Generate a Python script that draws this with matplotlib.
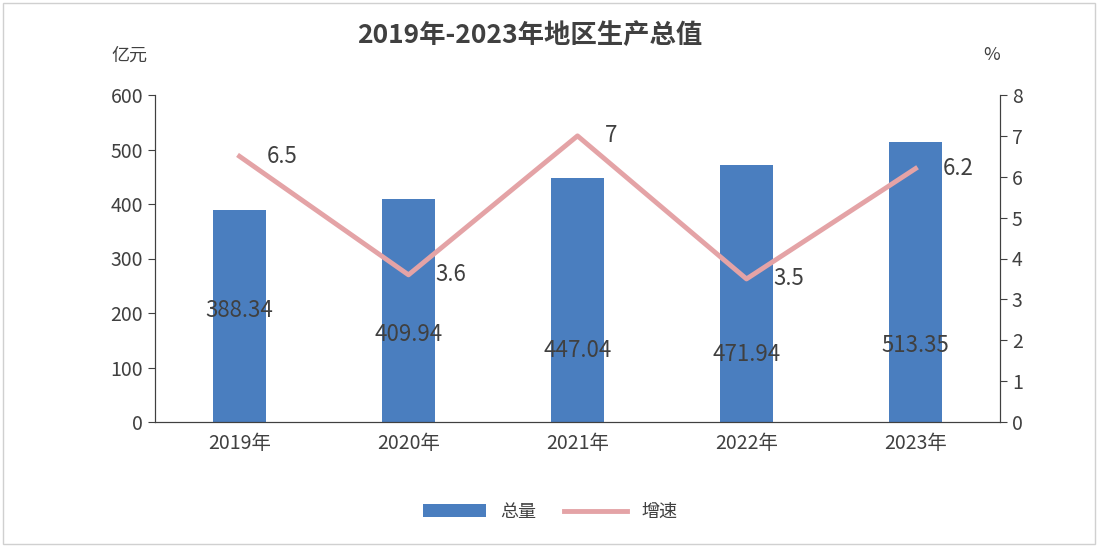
import numpy as np
import matplotlib.pyplot as plt
from matplotlib import font_manager
from matplotlib.patches import Rectangle

# make sure a CJK font is registered
cjk_names = []
for f in font_manager.findSystemFonts():
    if 'CJK' in f or 'cjk' in f.lower():
        try:
            font_manager.fontManager.addfont(f)
            cjk_names.append(font_manager.FontProperties(fname=f).get_name())
        except Exception:
            pass
families = [n for n in cjk_names if 'SC' in n] + cjk_names + ['Noto Sans CJK SC', 'DejaVu Sans']
plt.rcParams['font.family'] = 'sans-serif'
plt.rcParams['font.sans-serif'] = families

years = ['2019年', '2020年', '2021年', '2022年', '2023年']
totals = [388.34, 409.94, 447.04, 471.94, 513.35]
growth = [6.5, 3.6, 7, 3.5, 6.2]
total_label_y = [205, 160, 132, 123, 141]

bar_color = '#4A7EBF'
line_color = '#E4A3A6'
text_color = '#404040'

fig = plt.figure(figsize=(10.98, 5.47), dpi=100)
fig.patches.append(Rectangle((0.003, 0.005), 0.994, 0.99, transform=fig.transFigure,
                             fill=False, edgecolor='#d0d0d0', lw=1))
ax1 = fig.add_axes([155/1098, 1-422/547, 845/1098, 327/547])
ax2 = ax1.twinx()

x = np.arange(len(years))
ax1.bar(x, totals, width=0.31, color=bar_color, label='总量', zorder=2)
for i, v in enumerate(totals):
    ax1.text(x[i], total_label_y[i], f'{v:.2f}', ha='center', va='center',
             fontsize=16, color=text_color, zorder=5)

ax2.plot(x, growth, color=line_color, lw=3.5, label='增速', zorder=3)
for i, v in enumerate(growth):
    ax2.text(x[i] + 0.16, v, f'{v:g}', ha='left', va='center',
             fontsize=16, color=text_color)

ax1.set_xlim(-0.5, 4.5)
ax1.set_ylim(0, 600)
ax1.set_yticks(np.arange(0, 601, 100))
ax2.set_ylim(0, 8)
ax2.set_yticks(np.arange(0, 9, 1))
ax1.set_xticks(x)
ax1.set_xticklabels(years)

for a in (ax1, ax2):
    for s in a.spines.values():
        s.set_color('#404040')
    a.spines['top'].set_visible(False)
    a.tick_params(labelsize=14, colors=text_color, length=5)
ax1.tick_params(axis='x', length=0, pad=8)

ax1.text(-0.03, 1.12, '亿元', transform=ax1.transAxes, ha='center', va='center',
         fontsize=13, color=text_color)
ax2.text(-0.01, 1.11, '%', transform=ax1.transAxes, ha='center', va='center',
         fontsize=13, color=text_color) if False else None
fig.text(992/1098, 1-55/547, '%', ha='center', va='center', fontsize=13, color=text_color)
fig.text(530/1098, 1-35/547, '2019年-2023年地区生产总值', ha='center', va='center',
         fontsize=19, fontweight='bold', color=text_color)

h1, l1 = ax1.get_legend_handles_labels()
h2, l2 = ax2.get_legend_handles_labels()
fig.legend(h1 + h2, l1 + l2, loc='center', bbox_to_anchor=(550/1098, 1-512/547),
           ncol=2, frameon=False, fontsize=13, labelcolor=text_color,
           handlelength=3.5, columnspacing=1.5)

fig.savefig('out.png', dpi=100)
